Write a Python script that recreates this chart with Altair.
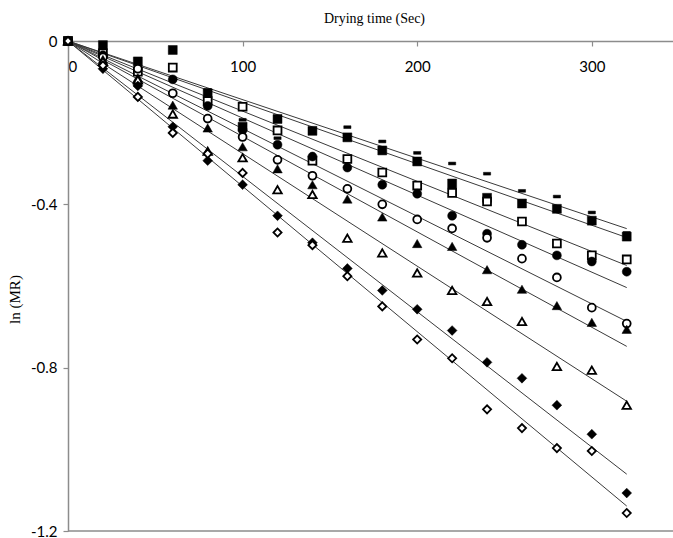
import altair as alt
import pandas as pd

# ---- data ----
time_s = [0, 20, 40, 60, 80, 100, 120, 140, 160, 180, 200, 220, 240, 260, 280, 300, 320]

dash_v = [0, -0.005, -0.045, -0.025, -0.120, -0.193, -0.238, -0.215, -0.211, -0.246, -0.274, -0.300, -0.325, -0.367, -0.381, -0.420, -0.470]
fsq_v = [0, -0.010, -0.050, -0.022, -0.128, -0.210, -0.191, -0.220, -0.236, -0.268, -0.295, -0.349, -0.384, -0.398, -0.411, -0.440, -0.479]
osq_v = [0, -0.030, -0.075, -0.065, -0.147, -0.161, -0.219, -0.293, -0.289, -0.322, -0.354, -0.372, -0.393, -0.442, -0.496, -0.525, -0.535]
fci_v = [0, -0.035, -0.105, -0.094, -0.159, -0.218, -0.254, -0.283, -0.310, -0.352, -0.374, -0.428, -0.472, -0.499, -0.525, -0.540, -0.565]
oci_v = [0, -0.040, -0.068, -0.128, -0.190, -0.235, -0.291, -0.330, -0.362, -0.400, -0.437, -0.459, -0.482, -0.533, -0.579, -0.653, -0.692]
ftr_v = [0, -0.045, -0.090, -0.157, -0.213, -0.259, -0.313, -0.352, -0.387, -0.431, -0.496, -0.503, -0.560, -0.608, -0.648, -0.689, -0.706]
otr_v = [0, -0.050, -0.095, -0.179, -0.270, -0.286, -0.364, -0.376, -0.483, -0.519, -0.568, -0.611, -0.638, -0.687, -0.797, -0.806, -0.892]
fdi_v = [0, -0.068, -0.110, -0.210, -0.293, -0.352, -0.428, -0.494, -0.557, -0.611, -0.657, -0.709, -0.787, -0.826, -0.892, -0.963, -1.107]
odi_v = [0, -0.060, -0.137, -0.225, -0.276, -0.323, -0.469, -0.500, -0.576, -0.650, -0.731, -0.777, -0.902, -0.948, -0.997, -1.004, -1.156]

series_names = ["dash", "filled square", "open square", "filled circle", "open circle",
                "filled triangle", "open triangle", "filled diamond", "open diamond"]
series_vals = [dash_v, fsq_v, osq_v, fci_v, oci_v, ftr_v, otr_v, fdi_v, odi_v]
# slopes of the fitted lines ln(MR) = -k t (lines pass through the origin)
slopes = [0.001436, 0.001504, 0.001718, 0.001887, 0.002146, 0.002337, 0.002757, 0.003315, 0.003559]
fit_end = 320

x_ticks = [0, 100, 200, 300]
y_ticks = [0, -0.4, -0.8, -1.2]

# ---- styles ----
DASH = "M-0.9,-0.35H0.9V0.35H-0.9Z"
shapes = [DASH, "square", "square", "circle", "circle", "triangle-up", "triangle-up", "diamond", "diamond"]
filled = [True, True, False, True, False, True, False, True, False]
sizes = [64, 80, 62, 80, 62, 90, 72, 95, 66]

x_scale = alt.Scale(domain=[0, 346.5], nice=False, zero=False)
y_scale = alt.Scale(domain=[-1.2, 0], nice=False, zero=False)

AX_COL = "#8c8c8c"
TXT = "#000000"

x_axis = alt.Axis(
    orient="bottom", offset=-490, values=x_ticks, format="d",
    domainColor=AX_COL, domainWidth=1.5, tickColor=AX_COL, tickWidth=1.2, tickSize=5,
    labelFont="Lato", labelFontSize=15, labelColor=TXT, labelPadding=13,
    title="Drying time (Sec)", titleFont="Liberation Serif", titleFontSize=14,
    titleFontWeight="normal", titleColor=TXT, titleY=-23, titleX=306,
    titleBaseline="middle", grid=False,
)
y_axis = alt.Axis(
    orient="left", values=y_ticks,
    labelExpr="datum.value == 0 ? '0' : '-' + format(abs(datum.value), '.1f')",
    domainColor=AX_COL, domainWidth=1.5, tickColor=AX_COL, tickWidth=1.2, tickSize=5,
    labelFont="Lato", labelFontSize=15, labelColor=TXT, labelPadding=6,
    title="ln (MR)", titleFont="Liberation Serif", titleFontSize=15,
    titleFontWeight="normal", titleColor=TXT, titleX=-54, titleY=258,
    titleAngle=270, titleBaseline="middle", grid=False,
)

# fitted lines
line_rows = []
for name, k in zip(series_names, slopes):
    line_rows.append({"series": name, "t": 0, "v": 0.0})
    line_rows.append({"series": name, "t": fit_end, "v": -k * fit_end})
lines_df = pd.DataFrame(line_rows)

lines = alt.Chart(lines_df).mark_line(color="#3a3a3a", strokeWidth=1).encode(
    x=alt.X("t:Q", scale=x_scale, axis=x_axis),
    y=alt.Y("v:Q", scale=y_scale, axis=y_axis),
    detail="series:N",
)

bottom_rule = alt.Chart(pd.DataFrame({"y": [-1.2], "x0": [0], "x1": [346.5]})).mark_rule(
    color=AX_COL, strokeWidth=1.5
).encode(
    y=alt.Y("y:Q", scale=y_scale),
    x=alt.X("x0:Q", scale=x_scale),
    x2="x1:Q",
)

layers = [lines, bottom_rule]
for name, vals, shp, fl, sz in zip(series_names, series_vals, shapes, filled, sizes):
    df = pd.DataFrame({"t": time_s, "v": vals})
    if fl:
        mk = alt.Chart(df).mark_point(shape=shp, filled=True, fill="black", stroke="black",
                                      strokeWidth=0.5, size=sz, opacity=1)
    else:
        mk = alt.Chart(df).mark_point(shape=shp, filled=True, fill="white", stroke="black",
                                      strokeWidth=1.8, size=sz, opacity=1)
    layers.append(mk.encode(x=alt.X("t:Q", scale=x_scale), y=alt.Y("v:Q", scale=y_scale)))

chart = alt.layer(*layers).properties(
    width=605, height=490,
    padding={"left": 68, "top": 41, "right": 0, "bottom": 7},
    autosize="none",
    background="white",
).configure_view(stroke=None)

chart.save("out.html", embed_options={"renderer": "svg", "actions": False})
